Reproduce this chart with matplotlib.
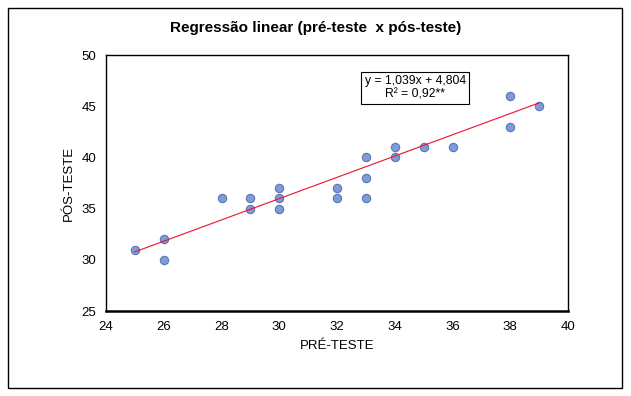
import numpy as np
import matplotlib.pyplot as plt
from matplotlib.patches import Rectangle

plt.rcParams['font.family'] = ['Liberation Sans', 'DejaVu Sans']

# valores
pre_teste = [25, 26, 26, 28, 29, 29, 30, 30, 30, 32, 32, 33, 33, 33, 34, 34, 35, 36, 38, 38, 39]
pos_teste = [31, 32, 30, 36, 36, 35, 37, 36, 35, 37, 36, 40, 38, 36, 41, 40, 41, 41, 46, 43, 45]
coef_a = 1.039
coef_b = 4.804
x_ticks = [24, 26, 28, 30, 32, 34, 36, 38, 40]
y_ticks = [25, 30, 35, 40, 45, 50]

fig = plt.figure(figsize=(6.31, 3.96), dpi=100)
fig.patches.append(Rectangle((8/631, 8/396), 614/631, 380/396, transform=fig.transFigure,
                             fill=False, edgecolor='black', linewidth=1))
ax = fig.add_axes([106/631, 85/396, 462/631, 256/396])

ax.scatter(pre_teste, pos_teste, s=36, color='#7E9DD8', edgecolors='#5A76B0', linewidths=0.8, zorder=3)
xl = np.array([min(pre_teste), max(pre_teste)])
ax.plot(xl, coef_a * xl + coef_b, color='#F0102A', linewidth=0.8, zorder=4)

ax.set_xlim(24, 40)
ax.set_ylim(25, 50)
ax.set_xticks(x_ticks)
ax.set_yticks(y_ticks)
ax.tick_params(length=0, labelsize=9.5)
ax.tick_params(axis='x', pad=7)
ax.tick_params(axis='y', pad=7)
for s in ax.spines.values():
    s.set_linewidth(1)
ax.spines['bottom'].set_linewidth(1.8)

ax.set_xlabel('PRÉ-TESTE', fontsize=9.5, labelpad=5)
ax.set_ylabel('PÓS-TESTE', fontsize=9.5, labelpad=5)
fig.text(0.5, 0.929, 'Regressão linear (pré-teste  x pós-teste)', ha='center', va='center',
         fontsize=11, fontweight='bold')

ax.text(0.669, 0.871, 'y = 1,039x + 4,804\nR² = 0,92**', transform=ax.transAxes,
        ha='center', va='center', fontsize=8.7, linespacing=1.15,
        bbox=dict(boxstyle='square,pad=0.3', facecolor='white', edgecolor='black', linewidth=0.8))

fig.savefig('out.png', dpi=100)
